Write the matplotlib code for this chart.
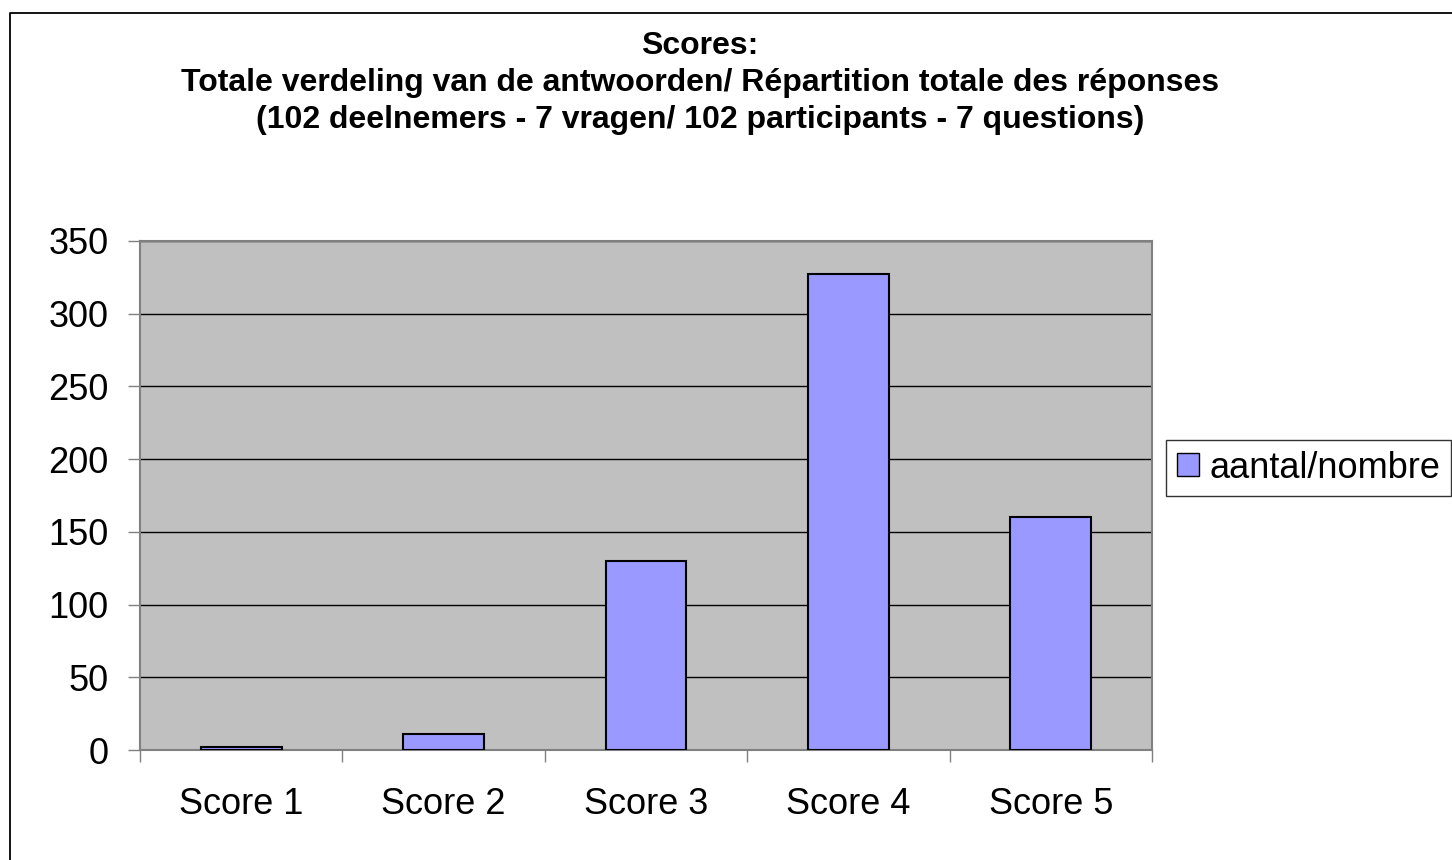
import numpy as np
import matplotlib.pyplot as plt
from matplotlib.lines import Line2D
from matplotlib.patches import Patch

categories = ['Score 1', 'Score 2', 'Score 3', 'Score 4', 'Score 5']
counts = [2, 11, 130, 327, 160]
series_name = 'aantal/nombre'
title = ('Scores:\n'
         'Totale verdeling van de antwoorden/ Répartition totale des réponses\n'
         '(102 deelnemers - 7 vragen/ 102 participants - 7 questions)')

plt.rcParams['font.family'] = ['Liberation Sans', 'DejaVu Sans']

W, H = 1452, 860
fig = plt.figure(figsize=(W / 100, H / 100), dpi=100)

# chart frame: only the top and left edges show in the crop
fig.lines.append(Line2D([10 / W, 10 / W, 1.0], [0.0, 1 - 12.5 / H, 1 - 12.5 / H],
                        transform=fig.transFigure, color='black', linewidth=1.3))

ax = fig.add_axes([140 / W, 1 - 750 / H, 1012 / W, 509 / H])
ax.set_facecolor('#C0C0C0')

ind = np.arange(len(categories))
bars = ax.bar(ind, counts, 0.4, color='#9999FF', edgecolor='black', linewidth=1.5, zorder=3)

ax.set_xlim(-0.5, len(categories) - 0.5)
ax.set_ylim(0, 350)
ax.set_yticks(np.arange(0, 351, 50))
ax.yaxis.grid(True, color='black', linewidth=1.0, zorder=1)
ax.set_axisbelow(True)

ax.set_xticks(ind)
ax.set_xticklabels(categories, fontsize=26)
ax.set_xticks(np.arange(-0.5, len(categories), 1.0), minor=True)
ax.tick_params(axis='x', which='major', length=0, pad=27)
ax.tick_params(axis='x', which='minor', length=8.5, width=1, color='#808080', direction='out')
ax.tick_params(axis='y', labelsize=26, length=8.5, width=1, color='#808080', pad=14)

for side in ax.spines:
    ax.spines[side].set_color('#808080')
    ax.spines[side].set_linewidth(1.5)

fig.text(700 / W, 1 - 83 / H, title, ha='center', va='center', fontsize=23,
         fontweight='bold', linespacing=1.3)

fig.legend([Patch(facecolor='#9999FF', edgecolor='black')], [series_name],
           loc='center left', bbox_to_anchor=(1166 / W, 1 - 468 / H),
           fontsize=26, frameon=True, fancybox=False, edgecolor='black',
           handlelength=0.6, handleheight=0.6, handletextpad=0.3,
           borderpad=0.3, borderaxespad=0)

fig.savefig('out.png', dpi=100)
